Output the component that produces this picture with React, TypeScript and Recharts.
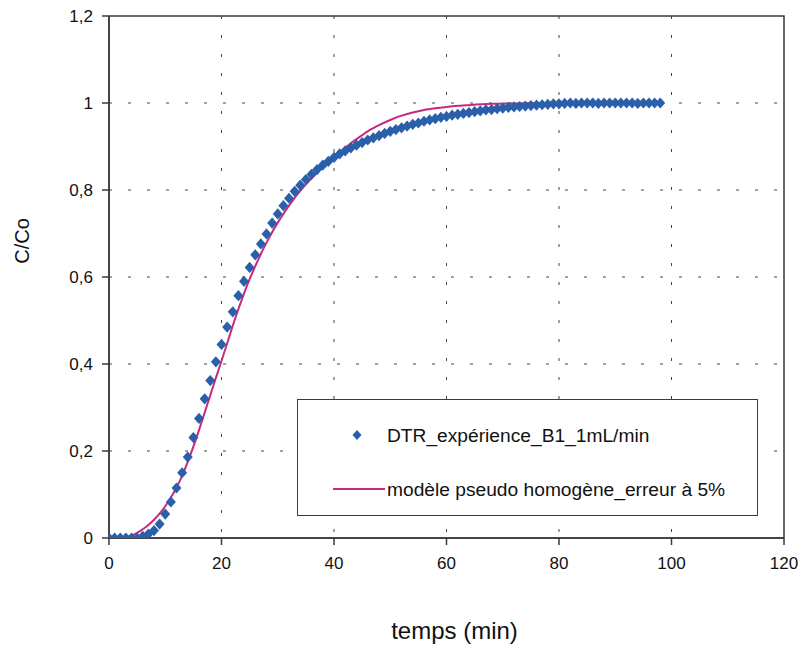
import React from 'react';
import { ComposedChart, Line, Scatter, XAxis, YAxis, CartesianGrid, Legend, ReferenceArea } from 'recharts';

const FONT = '"Liberation Sans", Arial, Helvetica, sans-serif';

const expTimes = [
  0, 1, 2, 3, 4, 5, 6, 7, 8, 9,
  10, 11, 12, 13, 14, 15, 16, 17, 18, 19,
  20, 21, 22, 23, 24, 25, 26, 27, 28, 29,
  30, 31, 32, 33, 34, 35, 36, 37, 38, 39,
  40, 41, 42, 43, 44, 45, 46, 47, 48, 49,
  50, 51, 52, 53, 54, 55, 56, 57, 58, 59,
  60, 61, 62, 63, 64, 65, 66, 67, 68, 69,
  70, 71, 72, 73, 74, 75, 76, 77, 78, 79,
  80, 81, 82, 83, 84, 85, 86, 87, 88, 89,
  90, 91, 92, 93, 94, 95, 96, 97, 98,
];

const expValues = [
  0, 0, 0, 0, 0, 0, 0.004, 0.009, 0.017, 0.032,
  0.055, 0.083, 0.115, 0.15, 0.186, 0.231, 0.275, 0.32, 0.362, 0.405,
  0.445, 0.485, 0.52, 0.557, 0.59, 0.622, 0.651, 0.676, 0.699, 0.724,
  0.745, 0.764, 0.781, 0.797, 0.811, 0.824, 0.836, 0.847, 0.857, 0.866,
  0.875, 0.883, 0.89, 0.897, 0.903, 0.909, 0.915, 0.92, 0.925, 0.93,
  0.935, 0.939, 0.943, 0.947, 0.951, 0.954, 0.958, 0.961, 0.964, 0.967,
  0.969, 0.972, 0.974, 0.976, 0.978, 0.98, 0.982, 0.984, 0.985, 0.987,
  0.988, 0.99, 0.991, 0.992, 0.993, 0.994, 0.995, 0.996, 0.997, 0.998,
  0.998, 0.999, 1, 0.999, 1, 1, 1, 0.999, 1, 1,
  1, 1, 1, 1, 0.999, 1, 1, 1, 1,
];

const modelTimes = [
  0, 2, 3, 4, 5, 6, 7, 8, 9, 10,
  11, 12, 13, 14, 15, 16, 17, 18, 19, 20,
  21, 22, 23, 24, 25, 26, 27, 28, 29, 30,
  31, 32, 33, 34, 35, 36, 37, 38, 39, 40,
  42, 44, 46, 48, 50, 52, 54, 56, 58, 60,
  64, 68, 72, 76, 80,
];

const modelValues = [
  0, 0, 0.002, 0.006, 0.012, 0.02, 0.03, 0.042, 0.056, 0.073,
  0.093, 0.116, 0.143, 0.175, 0.21, 0.248, 0.288, 0.328, 0.368, 0.407,
  0.447, 0.488, 0.526, 0.562, 0.595, 0.625, 0.653, 0.679, 0.703, 0.725,
  0.745, 0.764, 0.782, 0.798, 0.813, 0.827, 0.84, 0.853, 0.865, 0.876,
  0.897, 0.917, 0.935, 0.949, 0.961, 0.971, 0.978, 0.984, 0.988, 0.991,
  0.995, 0.998, 0.999, 1, 1,
];

const xTicks = [0, 20, 40, 60, 80, 100, 120];
const yTicks = [0, 0.2, 0.4, 0.6, 0.8, 1, 1.2];

const expName = 'DTR_expérience_B1_1mL/min';
const modelName = 'modèle pseudo homogène_erreur à 5%';
const xTitle = 'temps (min)';
const yTitle = 'C/Co';

const BLUE = '#2a5fa9';
const MAGENTA = '#c8287f';
const AXIS = '#3a3a3a';

const expData = expTimes.map((t, i) => ({ t, v: expValues[i] }));
const modelData = modelTimes.map((t, i) => ({ t, v: modelValues[i] }));

const Diamond = (props: any) => {
  const { cx, cy } = props;
  if (cx == null || cy == null) return null;
  const w = 5;
  const h = 5.6;
  return (
    <polygon
      points={`${cx},${cy - h} ${cx + w},${cy} ${cx},${cy + h} ${cx - w},${cy}`}
      fill={BLUE}
    />
  );
};

const LegendBox = () => (
  <div
    style={{
      width: 461,
      height: 117,
      boxSizing: 'border-box',
      border: `1.5px solid ${AXIS}`,
      background: '#fff',
      position: 'relative',
      fontFamily: FONT,
      color: '#111',
    }}
  >
    <svg width={461} height={117} style={{ position: 'absolute', left: -1.5, top: -1.5 }}>
      <polygon points="60,31 64.5,36 60,41 55.5,36" fill={BLUE} />
      <line x1={36} y1={90} x2={88} y2={90} stroke={MAGENTA} strokeWidth={2} />
      <text x={90} y={43} fontSize={19.2} fontFamily={FONT} fill="#111">{expName}</text>
      <text x={90} y={97} fontSize={19.2} fontFamily={FONT} fill="#111">{modelName}</text>
    </svg>
  </div>
);

const YTitle = (props: any) => {
  const vb = props.viewBox || {};
  const x = (vb.x ?? 0) + 22;
  const y = (vb.y ?? 0) + (vb.height ?? 0) / 2 - 36;
  return (
    <text
      x={x}
      y={y}
      transform={`rotate(-90, ${x}, ${y})`}
      textAnchor="middle"
      dominantBaseline="central"
      fontSize={20}
      fontFamily={FONT}
      fill="#111"
    >
      {yTitle}
    </text>
  );
};

const XTitle = (props: any) => {
  const vb = props.viewBox || {};
  const x = (vb.x ?? 0) + (vb.width ?? 0) / 2 + 8;
  const y = 639;
  return (
    <text x={x} y={y} textAnchor="middle" fontSize={24} fontFamily={FONT} fill="#111">
      {xTitle}
    </text>
  );
};

export default function App() {
  return (
    <div style={{ position: 'absolute', left: 0, top: 0, background: '#fff' }}>
      <ComposedChart
        width={804}
        height={651}
        margin={{ top: 16, right: 20, left: 0, bottom: 0 }}
      >
        <CartesianGrid
          stroke="#444"
          strokeDasharray="3 16"
          strokeWidth={1}
          horizontalValues={[0.2, 0.4, 0.6, 0.8, 1]}
          verticalValues={[20, 40, 60, 80, 100]}
        />
        <XAxis
          type="number"
          dataKey="t"
          domain={[0, 120]}
          ticks={xTicks}
          allowDataOverflow
          stroke={AXIS}
          strokeWidth={1.5}
          tickSize={7}
          tickMargin={12}
          tick={{ fill: '#111', fontSize: 17, fontFamily: FONT }}
          height={113}
          label={<XTitle />}
        />
        <YAxis
          type="number"
          dataKey="v"
          domain={[0, 1.2]}
          ticks={yTicks}
          allowDataOverflow
          stroke={AXIS}
          strokeWidth={1.5}
          tickSize={7}
          tickMargin={9}
          tick={{ fill: '#111', fontSize: 17, fontFamily: FONT }}
          tickFormatter={(v: number) => String(v).replace('.', ',')}
          width={109}
          label={<YTitle />}
        />
        <ReferenceArea
          x1={0}
          x2={120}
          y1={0}
          y2={1.2}
          fill="none"
          fillOpacity={0}
          stroke={AXIS}
          strokeWidth={1.5}
          ifOverflow="visible"
        />
        <Line
          data={modelData}
          dataKey="v"
          name={modelName}
          type="monotone"
          stroke={MAGENTA}
          strokeWidth={2}
          dot={false}
          activeDot={false}
          isAnimationActive={false}
        />
        <Scatter
          data={expData}
          dataKey="v"
          name={expName}
          fill={BLUE}
          shape={<Diamond />}
          isAnimationActive={false}
        />
        <Legend
          layout="horizontal"
          verticalAlign="middle"
          align="center"
          content={<LegendBox />}
          wrapperStyle={{ position: 'absolute', left: 297, top: 399, width: 461, height: 117 }}
        />
      </ComposedChart>
    </div>
  );
}
